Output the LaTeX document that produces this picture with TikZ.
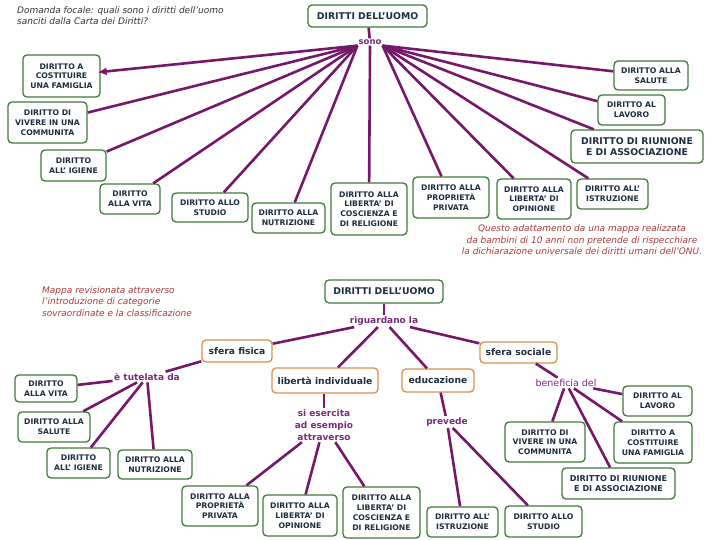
\documentclass[tikz,border=0pt]{standalone}
\usepackage{fontspec}
\setmainfont{DejaVu Sans}
\usetikzlibrary{arrows.meta}
\definecolor{purp}{HTML}{76186A}
\definecolor{gborder}{HTML}{3F7A3A}
\definecolor{oborder}{HTML}{D8904A}
\definecolor{btext}{HTML}{1E2E40}
\definecolor{ltext}{HTML}{7A2A7A}
\definecolor{rnote}{HTML}{A83A3A}
\definecolor{gnote}{HTML}{333333}
\begin{document}
\begin{tikzpicture}[x=1pt,y=-1pt,
 gbox/.style={draw=gborder, line width=1.3pt, rounded corners=4pt, fill=white, align=center, text=btext, font=\bfseries\fontsize{7.7}{9.8}\selectfont, inner sep=1pt},
 obox/.style={draw=oborder, line width=1.3pt, rounded corners=4pt, fill=white, align=center, text=btext, font=\bfseries\fontsize{9.2}{11}\selectfont, inner sep=1pt},
 lbl/.style={text=ltext, font=\bfseries\fontsize{9}{12}\selectfont, inner sep=1.5pt, align=center},
 conn/.style={draw=purp, line width=2.6pt},
 sz/.style 2 args={minimum width=#1pt, minimum height=#2pt},
 note/.style={font=\itshape\fontsize{9}{11.5}\selectfont, inner sep=0pt}]
\fill[white] (0,0) rectangle (720,540);
\useasboundingbox (0,0) rectangle (720,540);

% ---------- top map ----------
\node[note, text=gnote, anchor=north west, align=left] (q) at (17,6) {Domanda focale: quali sono i diritti dell'uomo\\sanciti dalla Carta dei Diritti?};
\node[gbox, sz={119}{22}, font=\bfseries\fontsize{9.3}{11}\selectfont] (u1) at (367.5,16) {DIRITTI DELL'UOMO};
\node[lbl, font=\bfseries\fontsize{8.5}{10}\selectfont, inner sep=1pt] (sono) at (370,42) {sono};

\node[gbox, sz={77}{42}] (fam) at (61.5,76) {DIRITTO A\\COSTITUIRE\\UNA FAMIGLIA};
\node[gbox, sz={79}{41}] (viv) at (47.5,122.5) {DIRITTO DI\\VIVERE IN UNA\\COMMUNITA};
\node[gbox, sz={65}{31}] (igi) at (73.5,165.5) {DIRITTO\\ALL' IGIENE};
\node[gbox, sz={60}{30}] (vita) at (130,199) {DIRITTO\\ALLA VITA};
\node[gbox, sz={76}{29}] (stu) at (210,207.5) {DIRITTO ALLO\\STUDIO};
\node[gbox, sz={73}{30}] (nut) at (288.5,218) {DIRITTO ALLA\\NUTRIZIONE};
\node[gbox, sz={76}{52}] (cos) at (369,209) {DIRITTO ALLA\\LIBERTA' DI\\COSCIENZA E\\DI RELIGIONE};
\node[gbox, sz={76}{41}] (pro) at (451,197.5) {DIRITTO ALLA\\PROPRIETÀ\\PRIVATA};
\node[gbox, sz={74}{40}] (opi) at (534,199) {DIRITTO ALLA\\LIBERTA' DI\\OPINIONE};
\node[gbox, sz={71}{30}] (ist) at (612.5,194) {DIRITTO ALL'\\ISTRUZIONE};
\node[gbox, sz={132}{33}, font=\bfseries\fontsize{9.3}{11.5}\selectfont] (riu) at (637,146.5) {DIRITTO DI RIUNIONE\\E DI ASSOCIAZIONE};
\node[gbox, sz={67}{30}] (lav) at (631.5,110) {DIRITTO AL\\LAVORO};
\node[gbox, sz={74}{29}] (sal) at (651,75.5) {DIRITTO ALLA\\SALUTE};

\node[note, text=rnote, align=center] (n1) at (582,240) {Questo adattamento da una mappa realizzata\\da bambini di 10 anni non pretende di rispecchiare\\la dichiarazione universale dei diritti umani dell'ONU.};

\draw[conn] (u1) -- (sono);
\draw[conn, -{Latex[length=9pt,width=8pt]}, shorten >=-3pt] (sono.south west) -- (fam);
\foreach \t in {viv,igi,vita,stu,nut}
  \draw[conn] (sono.south west) -- (\t);
\draw[conn] (sono.south) -- (cos);
\foreach \t in {pro,opi,ist,riu,lav,sal}
  \draw[conn] (sono.south east) -- (\t);

% ---------- bottom map ----------
\node[note, text=rnote, anchor=north west, align=left] (n2) at (42,286) {Mappa revisionata attraverso\\l'introduzione di categorie\\sovraordinate e la classificazione};
\node[gbox, sz={118}{23}, font=\bfseries\fontsize{9.3}{11}\selectfont] (u2) at (384,291.5) {DIRITTI DELL'UOMO};
\node[lbl] (rig) at (384,321) {riguardano la};

\node[obox, sz={70}{22}] (fis) at (237,351) {sfera fisica};
\node[obox, sz={77}{21}] (soc) at (518.5,352.5) {sfera sociale};
\node[obox, sz={106}{25}] (lib) at (325,380.5) {libertà individuale};
\node[obox, sz={72}{23}] (edu) at (438,380.5) {educazione};

\node[lbl] (tut) at (147,377) {è tutelata da};
\node[lbl] (ese) at (324,425) {si esercita\\ad esempio\\attraverso};
\node[lbl] (pre) at (447,422) {prevede};
\node[lbl, font=\fontsize{9.5}{12}\selectfont] (ben) at (566,383) {beneficia del};

\node[gbox, sz={62}{27}] (vita2) at (46,388.5) {DIRITTO\\ALLA VITA};
\node[gbox, sz={72}{30}] (sal2) at (54,427) {DIRITTO ALLA\\SALUTE};
\node[gbox, sz={63}{30}] (igi2) at (78.5,463) {DIRITTO\\ALL' IGIENE};
\node[gbox, sz={74}{29}] (nut2) at (155,464.5) {DIRITTO ALLA\\NUTRIZIONE};
\node[gbox, sz={76}{40}] (pro2) at (220,506) {DIRITTO ALLA\\PROPRIETÀ\\PRIVATA};
\node[gbox, sz={74}{41}] (opi2) at (300,515.5) {DIRITTO ALLA\\LIBERTA' DI\\OPINIONE};
\node[gbox, sz={77}{51}] (cos2) at (381.5,512.5) {DIRITTO ALLA\\LIBERTA' DI\\COSCIENZA E\\DI RELIGIONE};
\node[gbox, sz={71}{30}] (ist2) at (462.5,522) {DIRITTO ALL'\\ISTRUZIONE};
\node[gbox, sz={77}{31}] (stu2) at (543.5,521.5) {DIRITTO ALLO\\STUDIO};
\node[gbox, sz={80}{40}] (viv2) at (545,442) {DIRITTO DI\\VIVERE IN UNA\\COMMUNITA};
\node[gbox, sz={78}{41}] (fam2) at (653,442.5) {DIRITTO A\\COSTITUIRE\\UNA FAMIGLIA};
\node[gbox, sz={113}{31}, font=\bfseries\fontsize{8.1}{10.5}\selectfont] (riu2) at (618.5,483.5) {DIRITTO DI RIUNIONE\\E DI ASSOCIAZIONE};
\node[gbox, sz={69}{30}] (lav2) at (657.5,401) {DIRITTO AL\\LAVORO};

\draw[conn] (u2) -- (rig);
\foreach \t in {fis,lib,edu,soc} \draw[conn] (rig) -- (\t);
\draw[conn] (fis) -- (tut);
\foreach \t in {vita2,sal2,igi2,nut2} \draw[conn] (tut) -- (\t);
\draw[conn] (lib.south -| ese.north) -- (ese.north);
\foreach \t in {pro2,opi2,cos2} \draw[conn] (ese) -- (\t);
\draw[conn] (edu) -- (pre);
\foreach \t in {ist2,stu2} \draw[conn] (pre) -- (\t);
\draw[conn] (soc) -- (ben);
\foreach \t in {lav2,viv2,fam2,riu2} \draw[conn] (ben) -- (\t);
\end{tikzpicture}
\end{document}
